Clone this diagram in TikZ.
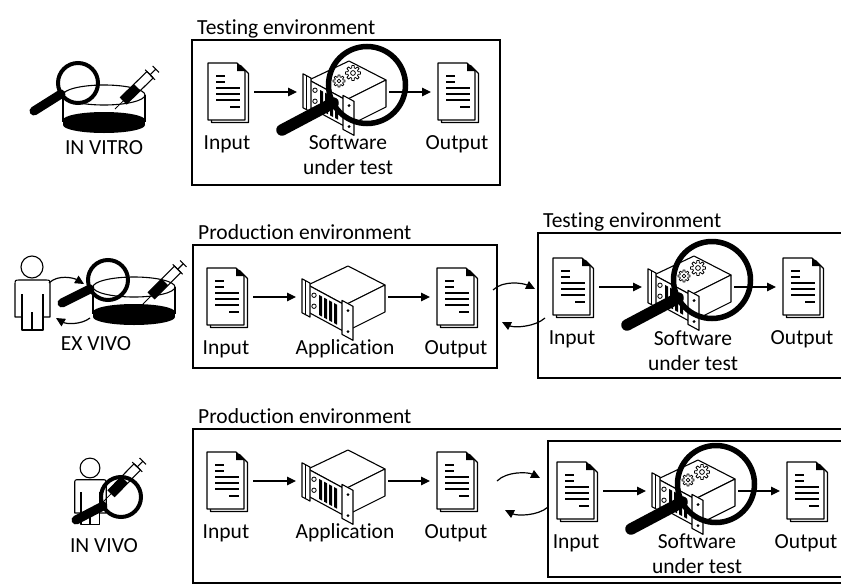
\documentclass[tikz,border=0pt]{standalone}
\usepackage{fontspec}
\setmainfont{Carlito}[Ligatures={NoCommon,NoContextual},RawFeature={-liga;-clig;-calt;-dlig}]
\usetikzlibrary{arrows.meta}

\tikzset{
  ln/.style={line width=1.1pt},
  flow/.style={line width=1.2pt,-{Triangle[length=9pt,width=8.5pt]}},
  envbox/.style={line width=1.3pt},
  lbl/.style={anchor=base,inner sep=0pt,font=\fontsize{21.5pt}{25pt}\selectfont},
  envlbl/.style={anchor=base west,inner sep=0pt,font=\fontsize{21.5pt}{25pt}\selectfont},
  hit/.style={inner sep=0pt,outer sep=0pt,minimum height=60pt},
  lens/.style={line width=4pt},
  handle/.style={line width=9pt,line cap=round},
  biglens/.style={line width=5.5pt},
  bighandle/.style={line width=11.5pt,line cap=round},
  % stacked document icon, origin at top-left of the front sheet
  doc/.pic={
    \draw[ln,fill=white,line join=round] (3.5,2.5) -- (32.5,2.5) -- (40.5,10.5) -- (40.5,59.5) -- (3.5,59.5) -- cycle;
    \draw[ln,fill=white,line join=round] (0,0) -- (29,0) -- (37,8) -- (37,57) -- (0,57) -- cycle;
    \fill (29,0) -- (37,8) -- (29,8) -- cycle;
    \draw[ln] (8,13) -- (17,13) (8,19) -- (17,19) (8,25) -- (32,25)
              (8,31) -- (32,31) (8,37) -- (32,37) (22,44) -- (32,44);
  },
  % rack server icon, origin at the left corner of the top face
  server/.pic={
    \draw[ln,fill=white,line join=round] (0,0) -- (40,-19) -- (77,0) -- (37,20) -- cycle;
    \draw[ln,fill=white,line join=round] (37,20) -- (77,0) -- (77,27) -- (37,47) -- cycle;
    \draw[ln,fill=white,line join=round] (0,0) -- (37,20) -- (37,47) -- (0,27) -- cycle;
    \draw[ln,fill=white,line join=round] (-6,-6.24) -- (2,-1.92) -- (2,32.08) -- (-6,27.76) -- cycle;
    \draw[line width=0.8pt] (-3,-4.6) -- (-3,29.4);
    \draw[line width=0.8pt] (6,10.24) circle (2.2pt) (6,21.24) circle (2.2pt);
    \foreach \s in {11,16,21,26}{
      \fill (\s,0.5405*\s+4) -- (\s+3,0.5405*\s+5.62) -- (\s+3,0.5405*\s+25.62) -- (\s,0.5405*\s+24) -- cycle;
    }
    \draw[ln,fill=white,line join=round] (34,15.38) -- (45,21.32) -- (45,55.32) -- (34,49.38) -- cycle;
    \fill (40,25.6) circle (1.6pt) (40,46.6) circle (1.6pt);
  },
  % small cog wheel
  gear/.pic={
    \draw[line width=0.8pt,fill=white,line join=round] (-9:#1)
      \foreach \a in {0,45,...,315}{ -- (\a-9:#1) -- (\a+9:#1) -- (\a+15:#1*0.7) -- (\a+30:#1*0.7)} -- cycle;
    \draw[line width=0.8pt] (0,0) circle (#1*0.32pt);
  },
  % person outline, origin at the centre of the head
  person/.pic={
    \draw[ln] (0,0) circle (11pt);
    \draw[ln,line join=round] (-10,50) -- (-17,50) -- (-17,18) .. controls (-17,13) .. (-12,13)
      -- (13,13) .. controls (18,13) .. (18,18) -- (18,50) -- (11,50);
    \draw[ln,line join=round] (-10,27) -- (-10,63) -- (11,63) -- (11,27);
    \draw[ln] (0,45) -- (0,63);
  },
  % petri dish, origin at the centre of the rim
  dish/.pic={
    \fill (0,25) ellipse [x radius=41pt,y radius=8pt];
    \fill (-41,25) rectangle (41,30);
    \fill (0,30) ellipse [x radius=41pt,y radius=8pt];
    \draw[ln] (-41,0) -- (-41,27) (41,0) -- (41,27);
    \draw[ln] (0,0) ellipse [x radius=41pt,y radius=10pt];
  },
  % syringe along +x, origin at the needle tip
  syringe/.pic={
    \draw[line width=0.8pt] (0,0) -- (12,0);
    \fill (12,-4.5) rectangle (31,4.5);
    \draw[ln] (12,-4.5) rectangle (49,4.5);
    \draw[ln] (49,-7) -- (49,7);
    \draw[ln] (49,0) -- (57,0);
    \draw[ln] (57,-4.5) -- (57,4.5);
  },
}

% input -> program -> output chain; #1 name prefix, (#2,#3) top-left of the input sheet
\newcommand\flowrow[3]{%
  \node[hit,minimum width=46pt] (#1in) at (#2+23,#3+29) {};
  \node[hit,minimum width=92pt] (#1sw) at (#2+135,#3+29) {};
  \node[hit,minimum width=46pt] (#1out) at (#2+246,#3+29) {};
  \pic at (#2,#3) {doc};
  \pic at (#2+230,#3) {doc};
  \pic at (#2+101,#3+17) {server};
  \draw[flow] (#1in) -- (#1sw);
  \draw[flow] (#1sw) -- (#1out);
  \node[lbl] (#1inl) at (#2+19,#3+86) {Input};
  \node[lbl] (#1outl) at (#2+249,#3+86) {Output};
}

% cogs and magnifying glass over the program under test
\newcommand\inspect[2]{%
  \pic at (#1+131,#2+18) {gear=6};
  \pic at (#1+145,#2+10) {gear=7.5};
  \draw[biglens] (#1+159,#2+22) circle (38.5pt);
  \draw[bighandle] (#1+125,#2+40) -- (#1+74,#2+67);
}

\begin{document}
\begin{tikzpicture}[x=1pt,y=-1pt]
\useasboundingbox (0,0) rectangle (841,584);

% environment frames
\draw[envbox] (192,40) rectangle (500,185);
\draw[envbox] (193,245) rectangle (497,368);
\draw[envbox] (538,233) rectangle (860,378);
\draw[envbox] (193,429) rectangle (860,583);
\draw[envbox] (548,441) rectangle (860,577);

\node[envlbl] (tenvA) at (197,34) {Testing environment};
\node[envlbl] (penvB) at (198,239) {Production environment};
\node[envlbl] (tenvC) at (543,227) {Testing environment};
\node[envlbl] (penvD) at (198,423) {Production environment};

% in vitro: testing only
\flowrow{a}{208}{63}
\node[lbl] (aswl) at (348,149) {Software};
\node[lbl] (aswm) at (348,174) {under test};
\inspect{208}{63}

% ex vivo: production, then testing on captured data
\flowrow{b}{207}{268}
\node[lbl] (bapp) at (345,354) {Application};
\flowrow{c}{553}{258}
\node[lbl] (cswl) at (693,345) {Software};
\node[lbl] (cswm) at (693,370) {under test};
\inspect{553}{258}
\coordinate (bx1) at (493,290);
\coordinate (bx2) at (535,289);
\coordinate (bx3) at (545,318);
\coordinate (bx4) at (502,322);
\draw[flow] (bx1) .. controls +(10,-10) and +(-12,-6) .. (bx2);
\draw[flow] (bx3) .. controls +(-10,9) and +(12,6) .. (bx4);

% in vivo: testing inside production
\flowrow{d}{207}{452}
\node[lbl] (dapp) at (345,538) {Application};
\flowrow{e}{557}{462}
\node[lbl] (eswl) at (697,548) {Software};
\node[lbl] (eswm) at (697,573) {under test};
\inspect{557}{462}
\coordinate (dx1) at (497,481);
\coordinate (dx2) at (540,478);
\coordinate (dx3) at (548,507);
\coordinate (dx4) at (505,510);
\draw[flow] (dx1) .. controls +(10,-10) and +(-12,-6) .. (dx2);
\draw[flow] (dx3) .. controls +(-10,9) and +(12,6) .. (dx4);

% left-hand icons
\pic at (104,95) {dish};
\pic[rotate=44.3] at (115,109) {syringe};
\draw[lens] (78,83) circle (20pt);
\draw[handle] (61,94) -- (34,111);
\node[lbl] (vitro) at (104,154) {IN VITRO};

\pic at (32,267) {person};
\pic at (134,287) {dish};
\pic[rotate=45] at (143,304) {syringe};
\draw[lens] (108,280) circle (20pt);
\draw[handle] (90,289) -- (62,303);
\coordinate (ev1) at (49,283);
\coordinate (ev2) at (84,284);
\coordinate (ev3) at (90,318);
\coordinate (ev4) at (56,318);
\draw[flow] (ev1) .. controls +(9,-9) and +(-10,-6) .. (ev2);
\draw[flow] (ev3) .. controls +(-9,7) and +(10,6) .. (ev4);
\node[lbl] (exvivo) at (96,350) {EX VIVO};

\pic[scale=0.9] at (90,468) {person};
\pic[rotate=45.7] at (103,502) {syringe};
\draw[lens] (121,497) circle (20pt);
\draw[handle] (103,506) -- (76,520);
\node[lbl] (invivo) at (104,552) {IN VIVO};
\end{tikzpicture}
\end{document}
